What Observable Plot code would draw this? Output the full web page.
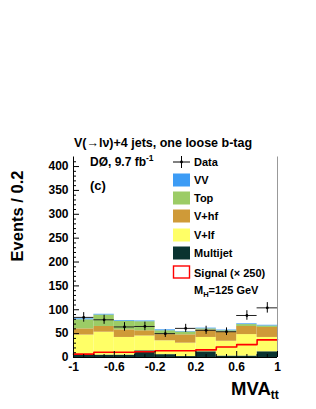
<!DOCTYPE html>
<html><head><meta charset="utf-8">
<script src="https://cdn.jsdelivr.net/npm/d3@7"></script>
<script src="https://cdn.jsdelivr.net/npm/@observablehq/plot@0.6"></script>
<style>
html,body{margin:0;padding:0;background:#fff;}
#chart svg{display:block;}
</style></head><body><div id="chart"></div>
<script>
// ---- data ----
const binEdges = [-1, -0.8, -0.6, -0.4, -0.2, 0, 0.2, 0.4, 0.6, 0.8, 1];
const seriesNames = ["Multijet", "V+lf", "V+hf", "Top", "VV"];
const multijetVals = [5, 5, 5, 14, 6, 2, 12, 3, 3, 12];
const vlfVals = [42, 48, 37, 31, 29, 28, 30, 31, 45, 30];
const vhfVals = [13, 12, 16, 11, 13, 17.5, 15.5, 19, 17, 21];
const topVals = [19, 24, 18, 19, 8, 6, 2.5, 3, 4, 3];
const vvVals = [2, 1.5, 1.5, 1.5, 2, 1, 1.5, 1.5, 1.5, 1.5];
const signalVals = [7, 11, 11, 12, 14, 14, 16, 22, 27, 37];
const dataVals = [84, 79, 64, 65, 50, 61, 57, 54, 88, 104];
const dataErr = [10, 9.5, 9, 9, 8, 8.5, 8.5, 8, 10, 11];
const yTickLabels = [0, 50, 100, 150, 200, 250, 300, 350, 400];
const xTickLabels = [-1, -0.6, -0.2, 0.2, 0.6, 1];
const seriesColors = ["#0a3330", "#ffff66", "#cf9a38", "#9ccc66", "#3d9cf5"];

const xDomain = [-1, 1];
const yDomain = [0, 420];
const W = 316, H = 409, mL = 73, mR = 39, mT = 156.5, mB = 52;
const pw = W - mL - mR, ph = H - mT - mB;

const valuesBy = {"Multijet": multijetVals, "V+lf": vlfVals, "V+hf": vhfVals, "Top": topVals, "VV": vvVals};
const stackRows = [];
seriesNames.forEach(s => valuesBy[s].forEach((v, i) => stackRows.push({series: s, x1: binEdges[i], x2: binEdges[i + 1], value: v})));
const bins = dataVals.map((v, i) => ({x1: binEdges[i], x2: binEdges[i + 1], xc: (binEdges[i] + binEdges[i + 1]) / 2, v, lo: v - dataErr[i], hi: v + dataErr[i]}));
const sigPts = binEdges.map((e, i) => ({x: e, y: signalVals[Math.min(i, signalVals.length - 1)]}));

const yMinor = d3.range(0, 420, 10).filter(v => v % 50 !== 0);
const xMinor = d3.range(-10, 11).map(v => v / 10).filter(v => !xTickLabels.some(t => Math.abs(t - v) < 1e-9));

const FONT = "'Liberation Sans', Arial, Helvetica, sans-serif";

const chart = Plot.plot({
  width: W, height: H,
  marginLeft: mL, marginRight: mR, marginTop: mT, marginBottom: mB,
  x: {domain: xDomain, axis: null},
  y: {domain: yDomain, axis: null},
  color: {domain: seriesNames, range: seriesColors},
  style: {fontFamily: FONT, background: "#fff"},
  marks: [
    Plot.rectY(stackRows, {x1: "x1", x2: "x2", y: "value", fill: "series", order: seriesNames}),
    Plot.line(sigPts, {x: "x", y: "y", curve: "step-after", stroke: "#ff0000", strokeWidth: 1.6}),
    Plot.ruleY(bins, {y: "v", x1: "x1", x2: "x2", stroke: "#222", strokeWidth: 1}),
    Plot.ruleX(bins, {x: "xc", y1: "lo", y2: "hi", stroke: "#000", strokeWidth: 1}),
    Plot.dot(bins, {x: "xc", y: "v", r: 1.4, fill: "#000"}),
    // axes lines
    Plot.ruleX([xDomain[0]], {stroke: "#000", strokeWidth: 1}),
    Plot.ruleX([xDomain[1]], {stroke: "#999", strokeWidth: 1}),
    Plot.ruleY([yDomain[0]], {stroke: "#000", strokeWidth: 1}),
    // y ticks
    Plot.ruleY(yTickLabels, {stroke: "#000", insetRight: pw - 6}),
    Plot.ruleY(yMinor, {stroke: "#000", insetRight: pw - 3}),
    // x ticks
    Plot.ruleX(xTickLabels, {stroke: "#000", insetTop: ph - 6}),
    Plot.ruleX(xMinor, {stroke: "#000", insetTop: ph - 3}),
    // tick labels
    Plot.text(yTickLabels, {y: d => d, text: d => String(d), frameAnchor: "left", textAnchor: "end", dx: -5, fontSize: 12, fontWeight: "bold", fill: "#000"}),
    Plot.text(xTickLabels, {x: d => d, text: d => String(d), frameAnchor: "bottom", dy: 13, fontSize: 12, fontWeight: "bold", fill: "#000"})
  ]
});
document.getElementById("chart").appendChild(chart);

// ---- annotations / legend ----
const svg = d3.select(chart);
const g = svg.append("g").attr("font-family", FONT).attr("font-weight", "bold").attr("fill", "#000").attr("text-anchor", "start");
g.append("text").attr("x", 163).attr("y", 147).attr("text-anchor", "middle").attr("font-size", 12.5)
  .text("V(\u2192l\u03bd)+4 jets, one loose b-tag");
g.append("text").attr("transform", "translate(23,216) rotate(-90)").attr("text-anchor", "middle").attr("font-size", 16.5)
  .text("Events / 0.2");
const xl = g.append("text").attr("x", 231).attr("y", 395).attr("font-size", 18.5);
xl.append("tspan").text("MVA");
xl.append("tspan").attr("font-size", 12).attr("dy", 4).text("tt");

const dz = g.append("text").attr("x", 90).attr("y", 166).attr("font-size", 12);
dz.append("tspan").text("D\u00d8, 9.7 fb");
dz.append("tspan").attr("font-size", 8.5).attr("dy", -5).text("-1");
g.append("text").attr("x", 90).attr("y", 190).attr("font-size", 13).text("(c)");

// legend
const lx = 173, tx = 194, lw = 17, lh = 13;
const legendRows = [
  {label: "Data", kind: "data", cy: 162},
  {label: "VV", fill: seriesColors[4], cy: 180},
  {label: "Top", fill: seriesColors[3], cy: 198},
  {label: "V+hf", fill: seriesColors[2], cy: 216},
  {label: "V+lf", fill: seriesColors[1], cy: 235},
  {label: "Multijet", fill: seriesColors[0], cy: 253},
  {label: "Signal (\u00d7 250)", kind: "sig", cy: 272.5}
];
legendRows.forEach(r => {
  if (r.kind === "data") {
    g.append("line").attr("x1", lx).attr("x2", lx + lw).attr("y1", r.cy).attr("y2", r.cy).attr("stroke", "#000");
    g.append("line").attr("x1", lx + lw / 2).attr("x2", lx + lw / 2).attr("y1", r.cy - 6).attr("y2", r.cy + 6).attr("stroke", "#000");
    g.append("circle").attr("cx", lx + lw / 2).attr("cy", r.cy).attr("r", 1.4);
  } else if (r.kind === "sig") {
    g.append("rect").attr("x", lx + 0.5).attr("y", r.cy - lh / 2).attr("width", lw - 1).attr("height", lh - 1).attr("fill", "#fff").attr("stroke", "#ff0000").attr("stroke-width", 1.4);
  } else {
    g.append("rect").attr("x", lx).attr("y", r.cy - lh / 2).attr("width", lw).attr("height", lh).attr("fill", r.fill);
  }
  g.append("text").attr("x", tx).attr("y", r.cy + 4).attr("font-size", 11).text(r.label);
});
const mh = g.append("text").attr("x", 194).attr("y", 294).attr("font-size", 11);
mh.append("tspan").text("M");
mh.append("tspan").attr("font-size", 7.5).attr("dy", 3).text("H");
mh.append("tspan").attr("dy", -3).text("=125 GeV");
</script></body></html>
